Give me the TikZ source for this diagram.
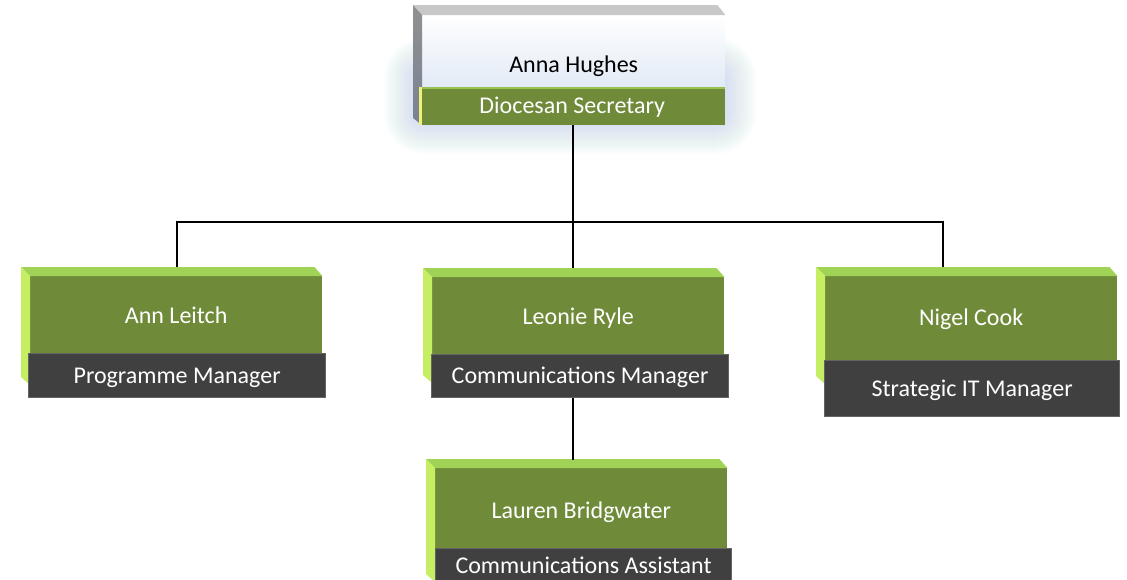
\documentclass[tikz,border=0pt]{standalone}
\usepackage{fontspec}
\setmainfont{Carlito}
\usetikzlibrary{calc}
\definecolor{gface}{RGB}{111,139,58}
\definecolor{gtopc}{RGB}{160,210,85}
\definecolor{gleftc}{RGB}{198,238,98}
\definecolor{dstrip}{RGB}{64,64,64}
\definecolor{dedge}{RGB}{100,100,100}
\definecolor{ttopc}{RGB}{200,200,200}
\definecolor{tleftA}{RGB}{145,145,145}
\definecolor{tleftB}{RGB}{120,130,148}
\definecolor{tfaceB}{RGB}{214,226,242}
\definecolor{glowc}{RGB}{190,208,242}
\definecolor{yedge}{RGB}{240,242,120}
\newcommand\orgfont{\fontsize{24pt}{28pt}\selectfont}
\tikzset{
  face/.style={anchor=north west, fill=gface, inner sep=0pt, text=white,
    font=\orgfont, text height=15pt, text depth=0pt, minimum width=292pt},
  tface/.style={anchor=north west, top color=white, bottom color=tfaceB,
    inner sep=0pt, text=black, font=\orgfont, text height=15pt, text depth=0pt},
  dstripbox/.style={anchor=north west, fill=dstrip, draw=dedge, line width=1.2pt,
    inner sep=0pt, text=white, font=\orgfont, text height=15pt, text depth=0pt,
    minimum width=297pt},
  gstrip/.style={anchor=north west, fill=gface, inner sep=0pt, text=white,
    font=\orgfont, text height=15pt, text depth=0pt},
  conn/.style={draw=black, line width=2pt},
}
\newcommand\bevels[2]{% #1 node name, #2 left bevel length
  \fill[gtopc] ($(#1.north west)+(-9,-9)$) -- ($(#1.north east)+(-8,-9)$)
     -- (#1.north east) -- (#1.north west) -- cycle;
  \fill[gleftc] ($(#1.north west)+(-9,-9)$) -- (#1.north west)
     -- ($(#1.north west)+(0,#2+8)$) -- ($(#1.north west)+(-9,#2)$) -- cycle;
}
\begin{document}
\begin{tikzpicture}[x=1pt,y=-1pt]
\fill[white] (0,0) rectangle (1127,579);
\useasboundingbox (0,0) rectangle (1127,579);
% glow around the top box
\foreach \r in {1,2,...,40}{
  \fill[glowc, opacity=0.02, rounded corners=\r pt]
    (424-\r,78-\r) rectangle (716+\r,114+\r);
}
% top box
\node[tface, minimum width=303pt, minimum height=100pt] (anna) at (422,15) {Anna Hughes};
\fill[ttopc] ($(anna.north west)+(-9,-10)$) -- ($(anna.north east)+(-8,-10)$)
   -- (anna.north east) -- (anna.north west) -- cycle;
\shade[top color=tleftA, bottom color=tleftB] ($(anna.north west)+(-9,-10)$) -- (anna.north west)
   -- ($(anna.north west)+(0,110)$) -- ($(anna.north west)+(-9,103)$) -- cycle;
\node[gstrip, minimum width=306pt, minimum height=38pt] (dsec) at (419,87) {Diocesan Secretary};
\fill[gtopc!80!gface] (dsec.north west) rectangle ($(dsec.north east)+(0,2)$);
\fill[yedge] (dsec.north west) rectangle ($(dsec.south west)+(3,0)$);
% level 2
\node[face, minimum height=80pt] (ann) at (30,276) {Ann Leitch};
\bevels{ann}{101}
\node[dstripbox, minimum height=44pt] (annS) at (28,353) {Programme Manager};

\node[face, minimum height=80pt] (leo) at (432,277) {Leonie Ryle};
\bevels{leo}{98}
\node[dstripbox, minimum height=43pt] (leoS) at (431,354) {Communications Manager};

\node[face, minimum height=84pt] (nig) at (825,276) {Nigel Cook};
\bevels{nig}{100}
\node[dstripbox, minimum height=56pt, minimum width=295pt] (nigS) at (824,360) {Strategic IT Manager};

\node[face, minimum height=85pt] (lau) at (435,468) {Lauren Bridgwater};
\bevels{lau}{106}
\node[dstripbox, minimum height=34pt, minimum width=296pt] (lauS) at (435,548) {Communications Assistant};

% connectors
\coordinate (annJ) at (177,222);
\coordinate (nigJ) at (943,222);
\coordinate (annT) at (177,267);
\coordinate (nigT) at (943,267);
\coordinate (leoT) at (573,268);
\coordinate (lauT) at (573,460);
\draw[conn] (dsec.south -| leoT) -- (leoT);
\draw[conn] (annT) -- (annJ) -- (nigJ) -- (nigT);
\draw[conn] (leoS.south -| lauT) -- (lauT);
\end{tikzpicture}
\end{document}
